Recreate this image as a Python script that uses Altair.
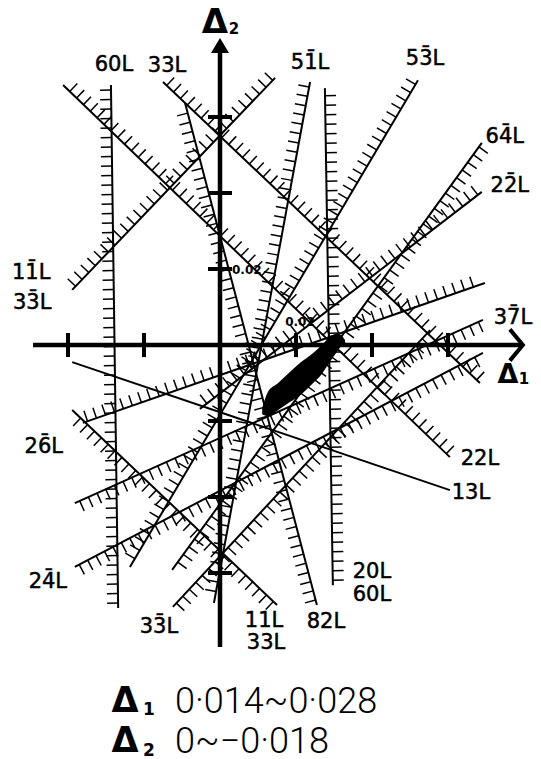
import numpy as np
import pandas as pd
import altair as alt

W, H = 541, 759
PX = 3800.0              # page pixels per unit of Δ, same on both axes (76 px per 0.02)
ORIGIN = (220, 345)      # page position of the origin of the Δ1–Δ2 frame

B = "\u0304"             # combining bar over an index

# ---- constraint lines: (Δ1, Δ2) at the labelled end and at the far end ----
D1_START = [-0.0287, 0.0297, -0.0150, 0.0605, -0.0389, 0.0237, 0.0521, 0.0689,
            0.0689, 0.0692, -0.0361, -0.0382, -0.0124, 0.0150, 0.0255, 0.0605]
D2_START = [0.0684, -0.0632, 0.0692, -0.0295, 0.0145, 0.0692, 0.0697, 0.0532,
            0.0403, 0.0066, -0.0205, -0.0584, -0.0689, -0.0684, -0.0684, -0.0382]
D1_END = [-0.0268, 0.0276, 0.0684, -0.0413, 0.0145, -0.0016, -0.0237, -0.0126,
          -0.0053, -0.0382, 0.0697, 0.0692, 0.0553, -0.0389, -0.0092, -0.0389]
D2_END = [-0.0692, 0.0676, -0.0100, 0.0684, 0.0703, -0.0679, -0.0584, -0.0592,
          -0.0168, -0.0416, 0.0163, -0.0021, 0.0039, -0.0171, 0.0637, -0.0045]
HATCHED = [True] * 15 + [False]

# names written at the labelled end of each line: (line, text, dx px, dy px)
LINE_NAMES = [
    (0, "60L", 3, -20),
    (1, "20L", 39, -13), (1, "60L", 39, 10),
    (2, "33L", 4, -16),
    (3, "22L", 30, 2),
    (4, f"11{B}L", -41, -17), (4, f"33{B}L", -40, 13),
    (5, f"51{B}L", 0, -19),
    (6, f"53{B}L", 7, -21),
    (7, f"64{B}L", 23, -6),
    (8, f"22{B}L", 28, -6),
    (9, f"37{B}L", 30, -2),
    (10, f"26{B}L", -39, 24),
    (11, f"24{B}L", -27, 15),
    (12, f"33{B}L", -14, 20),
    (13, "11L", -13, 16), (13, "33L", -11, 38),
    (14, "82L", 9, 17),
    (15, "13L", 21, 3),
]

# ---- result ----
D1_RANGE = (0.014, 0.028)
D2_RANGE = (0.0, -0.018)

# outline of the common (solution) region
BLOB_D1 = [0.0111, 0.0126, 0.0153, 0.0184, 0.0211, 0.0242, 0.0268, 0.0289, 0.0308, 0.0321, 0.0329]
BLOB_D2_UP = [-0.0166, -0.0124, -0.0100, -0.0071, -0.0047, -0.0024, 0.0000, 0.0021, 0.0029, 0.0024, 0.0013]
BLOB_D2_LO = [-0.0182, -0.0187, -0.0171, -0.0150, -0.0132, -0.0103, -0.0076, -0.0045, -0.0018, 0.0000, 0.0008]

# ---- axes ----
TICKS_D1 = [-0.04, -0.02, 0.02, 0.04, 0.06]
TICKS_D2 = [-0.06, -0.04, -0.02, 0.02, 0.04, 0.06]
AXIS_D1 = (-0.0492, 0.0797)
AXIS_D2 = (-0.0795, 0.0808)
TICK_LABEL = "0.02"

XS = alt.Scale(domain=[-ORIGIN[0] / PX, (W - ORIGIN[0]) / PX], nice=False, zero=False)
YS = alt.Scale(domain=[-(H - ORIGIN[1]) / PX, ORIGIN[1] / PX], nice=False, zero=False)


def at(d1, d2, dx=0.0, dy=0.0):
    """Shift a point of the Δ frame by a page offset in pixels (dy downwards)."""
    return d1 + dx / PX, d2 - dy / PX


def seg_enc():
    return dict(x=alt.X("x:Q", scale=XS, axis=None),
                y=alt.Y("y:Q", scale=YS, axis=None),
                x2="x2:Q", y2="y2:Q")


def pt_enc():
    return dict(x=alt.X("x:Q", scale=XS, axis=None),
                y=alt.Y("y:Q", scale=YS, axis=None))


# hatching on the side of each line away from the solution region
centre = np.array([np.mean(D1_RANGE), np.mean(D2_RANGE)])
hatch_rows = []
for i in range(len(D1_START)):
    if not HATCHED[i]:
        continue
    p0 = np.array([D1_START[i], D2_START[i]])
    p1 = np.array([D1_END[i], D2_END[i]])
    d = p1 - p0
    length = np.hypot(*d)
    u = d / length
    n = np.array([-u[1], u[0]])
    if np.dot(centre - p0, n) > 0:
        n = -n
    for t in np.arange(5 / PX, length - 3 / PX, 9.5 / PX):
        b = p0 + t * u
        e = b + (11 / PX) * n
        hatch_rows.append(dict(x=b[0], y=b[1], x2=e[0], y2=e[1]))
hatch_df = pd.DataFrame(hatch_rows)

lines_df = pd.DataFrame(dict(x=D1_START, y=D2_START, x2=D1_END, y2=D2_END))

blob_df = pd.DataFrame(dict(x=BLOB_D1, y=BLOB_D2_UP, y2=BLOB_D2_LO))

axes_df = pd.DataFrame(dict(x=[AXIS_D1[0], 0.0], y=[0.0, AXIS_D2[0]],
                            x2=[AXIS_D1[1] - 2 / PX, 0.0], y2=[0.0, AXIS_D2[1] - 8 / PX]))

half = 12 / PX
tick_rows = [dict(x=v, y=-half, x2=v, y2=half) for v in TICKS_D1]
tick_rows += [dict(x=-half, y=v, x2=half, y2=v) for v in TICKS_D2]
ticks_df = pd.DataFrame(tick_rows)

name_rows = []
for i, txt, dx, dy in LINE_NAMES:
    x, y = at(D1_START[i], D2_START[i], dx, dy)
    name_rows.append(dict(x=x, y=y, t=txt))
names_df = pd.DataFrame(name_rows)

# ---- layers ----
hatch = alt.Chart(hatch_df).mark_rule(color="black", strokeWidth=1.5).encode(**seg_enc())
lines = alt.Chart(lines_df).mark_rule(color="black", strokeWidth=2).encode(**seg_enc())
blob = alt.Chart(blob_df).mark_area(color="black", opacity=1, interpolate="monotone").encode(
    x=alt.X("x:Q", scale=XS, axis=None), y=alt.Y("y:Q", scale=YS, axis=None), y2="y2:Q")
axes = alt.Chart(axes_df).mark_rule(color="black", strokeWidth=4.5).encode(**seg_enc())
ticks = alt.Chart(ticks_df).mark_rule(color="black", strokeWidth=4).encode(**seg_enc())

up_tip = pd.DataFrame([dict(x=0.0, y=AXIS_D2[1])])
arrow_up = alt.Chart(up_tip).mark_point(
    shape="M0,0L0.6,1L-0.6,1Z", size=900, filled=True, color="black", opacity=1
).encode(**pt_enc())
right_tip = pd.DataFrame([dict(x=AXIS_D1[1], y=0.0)])
arrow_right = alt.Chart(right_tip).mark_point(
    shape="M-1,-1.2L0,0L-1,1.2", size=676, filled=False, color="black",
    strokeWidth=4, opacity=1, strokeJoin="miter"
).encode(**pt_enc())

tx = at(0.02, 0.0, 4, -23)
ty = at(0.0, 0.02, 12, 1)
tick_lab_x = alt.Chart(pd.DataFrame([dict(x=tx[0], y=tx[1], t=TICK_LABEL)])).mark_text(
    font="DejaVu Sans", fontSize=12, fontWeight="bold", align="center", baseline="middle"
).encode(text="t:N", **pt_enc())
tick_lab_y = alt.Chart(pd.DataFrame([dict(x=ty[0], y=ty[1], t=TICK_LABEL)])).mark_text(
    font="DejaVu Sans", fontSize=12, fontWeight="bold", align="left", baseline="middle"
).encode(text="t:N", **pt_enc())

names = alt.Chart(names_df).mark_text(
    font="DejaVu Sans", fontSize=21, align="center", baseline="middle",
    color="black", stroke="black", strokeWidth=0.5
).encode(text="t:N", **pt_enc())

# axis titles Δ1 and Δ2 at the arrow ends (positions are baselines)
t2 = at(0.0, AXIS_D2[1], -5, -5)
s2 = at(0.0, AXIS_D2[1], 14, -4)
t1 = at(AXIS_D1[1], 0.0, -15, 38)
s1 = at(AXIS_D1[1], 0.0, 1, 39)
title_big = alt.Chart(pd.DataFrame([dict(x=t2[0], y=t2[1], t="Δ", s=34),
                                    dict(x=t1[0], y=t1[1], t="Δ", s=27)])).mark_text(
    font="DejaVu Sans", fontWeight="bold", align="center", baseline="alphabetic"
).encode(text="t:N", size=alt.Size("s:Q", scale=None, legend=None), **pt_enc())
title_sub = alt.Chart(pd.DataFrame([dict(x=s2[0], y=s2[1], t="2"),
                                    dict(x=s1[0], y=s1[1], t="1")])).mark_text(
    font="DejaVu Sans", fontWeight="bold", fontSize=15, align="center", baseline="alphabetic"
).encode(text="t:N", **pt_enc())


def fmt(v):
    s = f"{abs(v):.3f}".replace(".", "·")
    return ("−" if v < 0 else "") + s if v != 0 else "0"


def caption(text, px, py, **style):
    return alt.Chart(pd.DataFrame({"t": [text]})).mark_text(**style).encode(
        x=alt.value(px), y=alt.value(py), text="t:N")


cap_style = dict(font="DejaVu Sans", fontWeight="bold", align="center", baseline="alphabetic")
val_style = dict(font="Roboto", fontWeight=300, fontSize=36, align="left", baseline="alphabetic")
captions = [
    caption("Δ", 125, 712, fontSize=35, **cap_style),
    caption("1", 149, 715, fontSize=17, **cap_style),
    caption(f"{fmt(D1_RANGE[0])}~{fmt(D1_RANGE[1])}", 175, 713, **val_style),
    caption("Δ", 125, 752, fontSize=35, **cap_style),
    caption("2", 149, 756, fontSize=17, **cap_style),
    caption(f"{fmt(D2_RANGE[0])}~{fmt(D2_RANGE[1])}", 175, 753, **val_style),
]

chart = alt.layer(
    hatch, lines, blob, axes, ticks, arrow_up, arrow_right,
    tick_lab_x, tick_lab_y, names, title_big, title_sub, *captions
).properties(
    width=W, height=H, padding=0, autosize="none", background="white"
).configure_view(stroke=None)

chart.save("out.html", embed_options={"renderer": "svg", "actions": False})
